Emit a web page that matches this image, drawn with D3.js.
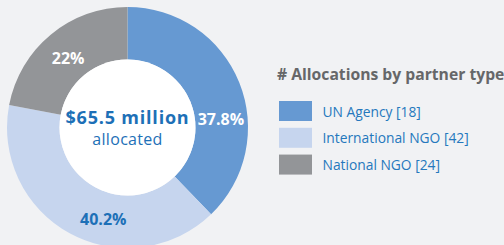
<!DOCTYPE html>
<html>
<head>
<meta charset="utf-8">
<script src="https://cdn.jsdelivr.net/npm/d3@7"></script>
<style>
  body { margin: 0; background: #f1f2f4; }
  svg { display: block; font-family: "Open Sans", sans-serif; }
</style>
</head>
<body>
<div id="chart"></div>
<script>
// dados
const tipos = ["UN Agency", "International NGO", "National NGO"];
const contagens = [18, 42, 24];
const percentuais = [37.8, 40.2, 22];
const rotulos = ["37.8%", "40.2%", "22%"];
const ajusteRotulo = [17, -13.7, -1]; // graus, deslocamento do rótulo
const ajusteRaio = [0, 1.5, -2.5];    // px
const total = "$65.5 million";
const subtitulo = "allocated";
const tituloLegenda = "# Allocations by partner type";

const cores = ["#6699d2", "#c6d5ee", "#939598"];
const corRotulo = ["#ffffff", "#1d70b7", "#ffffff"];

let width = 504, height = 245;
let cx = 127.5, cy = 127.5;
let rExt = 120.5, rInt = 68;

let svg = d3.select("#chart").append("svg")
    .attr("width", width)
    .attr("height", height);

svg.append("rect").attr("width", width).attr("height", height).attr("fill", "#f1f2f4");

let g = svg.append("g").attr("transform", `translate(${cx},${cy})`);

let pie = d3.pie().sort(null).value(d => d);
let arcos = pie(percentuais);

let arco = d3.arc().innerRadius(rInt).outerRadius(rExt);

g.selectAll("path.fatia")
    .data(arcos)
    .enter().append("path")
    .attr("class", "fatia")
    .attr("d", arco)
    .attr("fill", (d, i) => cores[i]);

g.append("circle").attr("r", rInt).attr("fill", "#ffffff");

// rótulos das fatias
let rMeio = (rInt + rExt) / 2 - 0.5;
g.selectAll("text.rotulo")
    .data(arcos)
    .enter().append("text")
    .attr("class", "rotulo")
    .attr("transform", (d, i) => {
        let a = (d.startAngle + d.endAngle) / 2 + ajusteRotulo[i] * Math.PI / 180;
        let r = rMeio + ajusteRaio[i];
        return `translate(${Math.sin(a) * r},${-Math.cos(a) * r})`;
    })
    .attr("text-anchor", "middle")
    .attr("dy", "0.35em")
    .attr("font-size", 16)
    .attr("font-weight", 700)
    .attr("fill", (d, i) => corRotulo[i])
    .text((d, i) => rotulos[i]);

// texto central
g.append("text")
    .attr("text-anchor", "middle")
    .attr("y", -4)
    .attr("font-size", 18)
    .attr("font-weight", 700)
    .attr("fill", "#1d70b7")
    .attr("letter-spacing", 0.8)
    .text(total);

g.append("text")
    .attr("text-anchor", "middle")
    .attr("y", 17.5)
    .attr("font-size", 16)
    .attr("fill", "#1d70b7")
    .attr("letter-spacing", 0.3)
    .text(subtitulo);

// legenda
let leg = svg.append("g").attr("transform", "translate(277,0)");

leg.append("text")
    .attr("x", 0)
    .attr("y", 80)
    .attr("font-size", 15.7)
    .attr("font-weight", 700)
    .attr("fill", "#666769")
    .text(tituloLegenda);

let y = d3.scaleBand().domain(tipos).range([101, 176]).paddingInner(0.2);

let item = leg.selectAll("g.item")
    .data(tipos)
    .enter().append("g")
    .attr("class", "item")
    .attr("transform", d => `translate(2,${y(d)})`);

item.append("rect")
    .attr("width", 33)
    .attr("height", 20)
    .attr("fill", (d, i) => cores[i]);

item.append("text")
    .attr("x", 43.5)
    .attr("y", 15.5)
    .attr("font-size", 13.8)
    .attr("fill", "#2578bd")
    .text((d, i) => `${d} [${contagens[i]}]`);
</script>
</body>
</html>
